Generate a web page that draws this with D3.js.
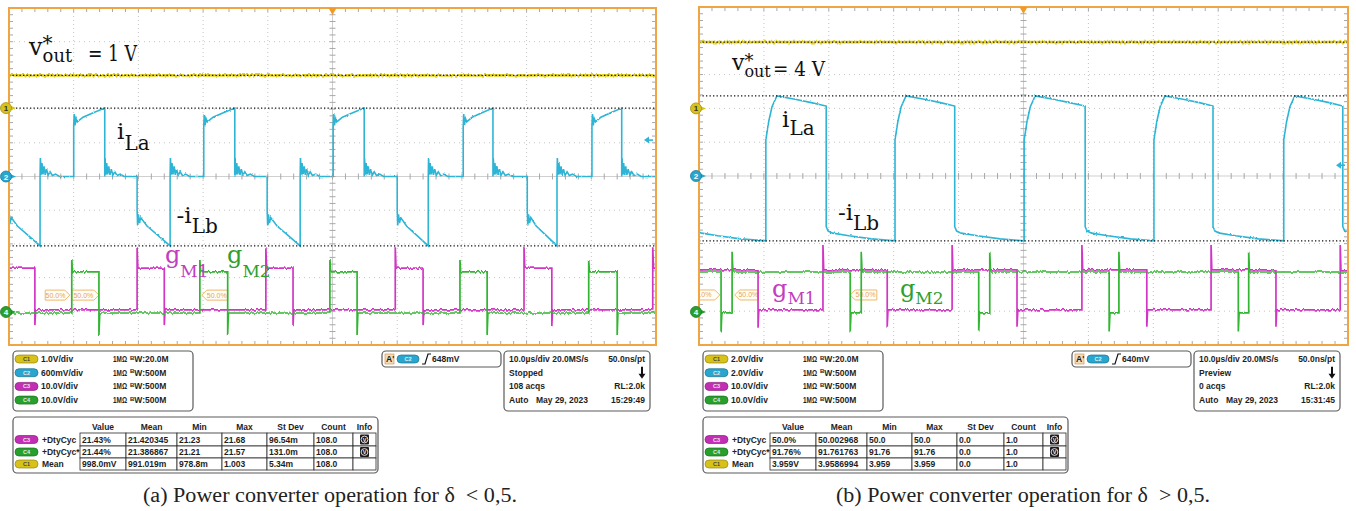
<!DOCTYPE html>
<html>
<head>
<meta charset="utf-8">
<script src="https://cdn.jsdelivr.net/npm/d3@7"></script>
<style>
  body { margin: 0; background: #fff; }
  svg { display: block; }
  .info { font-family: "Liberation Sans", Arial, sans-serif; font-weight: bold; font-size: 8.5px; fill: #1e1e1e; }
  .lbl { font-family: "DejaVu Serif", serif; }
</style>
</head>
<body>
<svg id="fig" width="1356" height="511"></svg>
<script>
// time in µs (10 µs/div), levels in divisions (center = 0)

// ---------- scope (a) : delta < 0.5 ----------
const aYellow = 3.0;
const aCursors = [3.0, 2.03, -2.06];
const aILaRise = [10.0, 30.1, 50.1, 70.2, 90.1];
const aILaFall = [14.8, 34.9, 54.9, 74.8, 94.7];
const aILbFall = [-0.2, 19.8, 39.9, 60.0, 80.1];
const aILbRise = [4.8, 24.9, 45.0, 64.8, 84.7];
const aILaEdge = [[0, 1.5], [0.08, 1.85], [0.2, 1.52], [0.35, 1.72], [0.55, 1.62]];
const aILaRamp = [[0.3, 1.76], [0.65, 1.9], [1, 2.03]];      // fraction of on-time, level
const aILbEdge = [[0, -1.0], [0.08, -1.45], [0.2, -1.12], [0.35, -1.38], [0.55, -1.22]];
const aILbRamp = [[0.3, -1.47], [0.65, -1.76], [1, -2.06]];
const aRing = [[0.05, 0.55], [0.18, 0.05], [0.3, 0.4], [0.45, 0.06], [0.62, 0.3], [0.8, 0.05],
               [1.0, 0.22], [1.25, 0.04], [1.55, 0.14], [1.9, 0.03], [2.4, 0.07], [3.0, 0]];
const aG1High = [[-0.3, 4.0], [19.8, 24.0], [39.7, 43.9], [59.7, 64.0], [79.6, 83.9], [99.5, 101]];
const aG2High = [[9.7, 13.9], [29.5, 33.8], [49.6, 53.8], [69.7, 73.9], [89.6, 94.0]];
const aG1Levels = [-3.96, -2.72], aG1Spikes = [0.62, 0.45];
const aG2Levels = [-4.05, -2.83], aG2Spikes = [0.35, 0.65];
const aTags = [[5.6, 9.4, "r"], [9.7, 13.9, "r"], [29.8, 33.8, "l"]];
const aMarkers = [["1", 2.03, "C1"], ["2", 0, "C2"], ["4", -4.02, "C4"]];
const aTrig = [0.648, 0.6];   // level V, C2 V/div
const aLabels = { vout: [3.09, 3.61, "1"], iLa: [16.7, 1.11, 11], iLb: [25.9, -1.38, 10], gM1: [24.1, -2.57, 13.5], gM2: [33.7, -2.57, 13.5] };

const aChannels = [["C1", "1.0V/div", "20.0M"], ["C2", "600mV/div", "500M"], ["C3", "10.0V/div", "500M"], ["C4", "10.0V/div", "500M"]];
const aTrigText = "648mV";
const aTiming = [["10.0µs/div 20.0MS/s", "", "50.0ns/pt"], ["Stopped", "", ""], ["108 acqs", "", "RL:2.0k"], ["Auto", "May 29, 2023", "15:29:49"]];
const aMeas = [["C3", "+DtyCyc", "21.43%", "21.420345", "21.23", "21.68", "96.54m", "108.0", 1],
               ["C4", "+DtyCyc*", "21.44%", "21.386867", "21.21", "21.57", "131.0m", "108.0", 1],
               ["C1", "Mean", "998.0mV", "991.019m", "978.8m", "1.003", "5.34m", "108.0", 0]];
const aCaption = "(a) Power converter operation for δ\u00a0\u00a0< 0,5.";

// ---------- scope (b) : delta > 0.5 ----------
const bYellow = 3.96;
const bCursors = [3.96, 2.37, -1.92];
const bILaRise = [10.3, 30.2, 50.1, 70.1, 90.1];
const bILaFall = [-0.6, 19.6, 39.4, 59.5, 79.2, 99.2];
const bHighShape = [[0, 1.07], [0.45, 1.62], [0.95, 2.05], [1.7, 2.37], [4.5, 2.27], [7, 2.17]];
const bTopEnd = 2.07;
const bLowShape = [[0, -1.5], [0.3, -1.63], [1.0, -1.69], [3.5, -1.77], [7, -1.86]];
const bLowEnd = -1.92;
const bG1High = [[-1, 9.1], [19.1, 29.0], [39.0, 49.0], [59.0, 69.0], [78.9, 88.9], [98.8, 101]];
const bG2High = [[-1, 3.4], [5.1, 23.3], [25.0, 43.1], [44.8, 63.2], [64.7, 83.1], [84.7, 101]];
const bG1Levels = [-3.96, -2.78], bG1Spikes = [0.74, 0.5];
const bG2Levels = [-4.05, -2.84], bG2Spikes = [0.6, 0.55];
const bTags = [[-1.8, 3.2, "r"], [5.5, 9.1, "l"], [23.3, 27.4, "l"]];
const bMarkers = [["1", 2.0, "C1"], ["2", 0, "C2"], ["4", -4.02, "C4"]];
const bTrig = [0.64, 2.0];
const bLabels = { vout: [5.08, 3.14, "4"], iLa: [12.8, 1.45, 8], iLb: [21.4, -1.30, 10], gM1: [11.25, -3.58, 6.5], gM2: [30.97, -3.58, 6.5] };

const bChannels = [["C1", "2.0V/div", "20.0M"], ["C2", "2.0V/div", "500M"], ["C3", "10.0V/div", "500M"], ["C4", "10.0V/div", "500M"]];
const bTrigText = "640mV";
const bTiming = [["10.0µs/div 20.0MS/s", "", "50.0ns/pt"], ["Preview", "", ""], ["0 acqs", "", "RL:2.0k"], ["Auto", "May 29, 2023", "15:31:45"]];
const bMeas = [["C3", "+DtyCyc", "50.0%", "50.002968", "50.0", "50.0", "0.0", "1.0", 1],
               ["C4", "+DtyCyc*", "91.76%", "91.761763", "91.76", "91.76", "0.0", "1.0", 1],
               ["C1", "Mean", "3.959V", "3.9586994", "3.959", "3.959", "0.0", "1.0", 0]];
const bCaption = "(b) Power converter operation for δ\u00a0\u00a0> 0,5.";

const measHeader = ["Value", "Mean", "Min", "Max", "St Dev", "Count", "Info"];

// ---------- styles ----------
const chColor = { C1: "#d8c21a", C2: "#28a6cf", C3: "#c22fb4", C4: "#27a02d" };
const trace = { y: "#e4d020", c: "#2eb5d6", m: "#d236c6", g: "#30b530" };
const frameColor = "#f1a542";

const svg = d3.select("#fig");
const defs = svg.append("defs");

function jitter(id, scale, freq) {
  const f = defs.append("filter").attr("id", id)
    .attr("filterUnits", "userSpaceOnUse").attr("x", 0).attr("y", 0).attr("width", 1356).attr("height", 511);
  f.append("feTurbulence").attr("type", "fractalNoise").attr("baseFrequency", freq)
    .attr("numOctaves", 1).attr("seed", 7).attr("result", "n");
  f.append("feColorMatrix").attr("in", "n").attr("type", "matrix")
    .attr("values", "0 0 0 0 0.5  0 1 0 0 0  0 0 0 0 0  0 0 0 0 1").attr("result", "m");
  f.append("feDisplacementMap").attr("in", "SourceGraphic").attr("in2", "m").attr("scale", scale)
    .attr("xChannelSelector", "R").attr("yChannelSelector", "G");
}
jitter("jitY", 4.5, "0.45 0.05");
jitter("jitG", 4, "0.5 0.05");
jitter("jitC", 2.5, "0.5 0.5");

function gatePts(high, lv, sp) {
  const p = [[-1, high[0][0] <= -1 ? lv[1] : lv[0]]];
  high.forEach(([r, f]) => {
    if (r > -1) p.push([r, lv[0]], [r, lv[1] + sp[0]], [r + 0.12, lv[1]]);
    if (f < 101) p.push([f, lv[1]], [f, lv[0] - sp[1]], [f + 0.12, lv[0]]);
  });
  p.push([101, p[p.length - 1][1]]);
  return p;
}

function cyanA() {
  const pulses = [];
  aILaRise.forEach((t, i) => pulses.push([t, aILaFall[i], aILaEdge, aILaRamp]));
  aILbFall.forEach((t, i) => pulses.push([t, aILbRise[i], aILbEdge, aILbRamp]));
  pulses.sort((p, q) => p[0] - q[0]);
  const pts = [[-1, 0]];
  pulses.forEach(([t0, t1, edge, ramp]) => {
    pts.push([t0, 0]);
    edge.forEach(([d, v]) => pts.push([t0 + d, v]));
    ramp.forEach(([f, v]) => pts.push([t0 + f * (t1 - t0), v]));
    pts.push([t1, 0]);
    aRing.forEach(([d, v]) => pts.push([t1 + d, v]));
  });
  pts.push([101, 0]);
  return pts;
}

function cyanB() {
  const pts = [[-1, bTopEnd]];
  bILaFall.forEach((f, i) => {
    pts.push([f, bTopEnd]);
    bLowShape.forEach(([d, v]) => pts.push([f + d, v]));
    const r = bILaRise[i];
    if (r !== undefined) {
      pts.push([r, bLowEnd]);
      bHighShape.forEach(([d, v]) => pts.push([r + d, v]));
    }
  });
  return pts;
}

function drawScope(id, fr, cfg) {
  const x = d3.scaleLinear().domain([0, 100]).range([fr.x0, fr.x1]);
  const y = d3.scaleLinear().domain([-5, 5]).range([fr.y1, fr.y0]);
  const line = d3.line().x(d => x(d[0])).y(d => y(d[1]));
  const g = svg.append("g");

  defs.append("clipPath").attr("id", "clip-" + id).append("rect")
    .attr("x", fr.x0).attr("y", fr.y0).attr("width", fr.x1 - fr.x0).attr("height", fr.y1 - fr.y0);

  // graticule
  const grid = g.append("g").attr("stroke", "#c4c4c4").attr("stroke-width", 1);
  grid.selectAll(".vg").data(d3.range(10, 100, 10).filter(t => t !== 50)).join("line")
    .attr("x1", d => x(d)).attr("x2", d => x(d)).attr("y1", fr.y0).attr("y2", fr.y1)
    .attr("stroke-dasharray", "1,3");
  grid.selectAll(".hg").data(d3.range(-4, 5, 1).filter(v => v !== 0)).join("line")
    .attr("y1", d => y(d)).attr("y2", d => y(d)).attr("x1", fr.x0).attr("x2", fr.x1)
    .attr("stroke-dasharray", "1,4");
  grid.append("line").attr("x1", x(50)).attr("x2", x(50)).attr("y1", fr.y0).attr("y2", fr.y1).attr("stroke", "#cfcfcf");
  grid.append("line").attr("y1", y(0)).attr("y2", y(0)).attr("x1", fr.x0).attr("x2", fr.x1).attr("stroke", "#cfcfcf");

  const ticks = g.append("g").attr("stroke", "#a8a8a8").attr("stroke-width", 1);
  const tT = d3.range(2, 100, 2), tV = d3.range(-4.8, 5, 0.2);
  ticks.selectAll(".tt").data(tT).join("line")
    .attr("x1", d => x(d)).attr("x2", d => x(d)).attr("y1", fr.y0).attr("y2", fr.y0 + 4);
  ticks.selectAll(".tb").data(tT).join("line")
    .attr("x1", d => x(d)).attr("x2", d => x(d)).attr("y1", fr.y1).attr("y2", fr.y1 - 4);
  ticks.selectAll(".tc").data(tT).join("line")
    .attr("x1", d => x(d)).attr("x2", d => x(d)).attr("y1", y(0) - 3).attr("y2", y(0) + 3);
  ticks.selectAll(".vl").data(tV).join("line")
    .attr("y1", d => y(d)).attr("y2", d => y(d)).attr("x1", fr.x0).attr("x2", fr.x0 + 4);
  ticks.selectAll(".vr").data(tV).join("line")
    .attr("y1", d => y(d)).attr("y2", d => y(d)).attr("x1", fr.x1).attr("x2", fr.x1 - 4);
  ticks.selectAll(".vc").data(tV).join("line")
    .attr("y1", d => y(d)).attr("y2", d => y(d)).attr("x1", x(50) - 3).attr("x2", x(50) + 3);

  const inner = g.append("g").attr("clip-path", `url(#clip-${id})`);

  // measurement tags
  const tagY = y(-3.52);
  cfg.tags.forEach(([t0, t1, dir]) => {
    const a = x(t0), b = x(t1), h = 5;
    const pts = dir === "r"
      ? [[a, tagY - h], [b - 5, tagY - h], [b, tagY], [b - 5, tagY + h], [a, tagY + h]]
      : [[a, tagY], [a + 5, tagY - h], [b, tagY - h], [b, tagY + h], [a + 5, tagY + h]];
    inner.append("polygon").attr("points", pts.map(p => p.join(",")).join(" "))
      .attr("fill", "#fffdf6").attr("stroke", "#f0b86a").attr("stroke-width", 1);
    inner.append("text").attr("x", (a + b) / 2 + (dir === "r" ? -2 : 2)).attr("y", tagY + 2.5)
      .attr("text-anchor", "middle").attr("font-family", "Liberation Sans, Arial, sans-serif")
      .attr("font-size", 7).attr("fill", "#e6a556").text("50.0%");
  });

  // traces
  inner.append("path").attr("d", line([[-1, cfg.yellow], [101, cfg.yellow]]))
    .attr("fill", "none").attr("stroke", trace.y).attr("stroke-width", 2.6).attr("filter", "url(#jitY)");
  inner.append("path").attr("d", line(gatePts(cfg.g1High, cfg.g1Lv, cfg.g1Sp)))
    .attr("fill", "none").attr("stroke", trace.m).attr("stroke-width", 1.7).attr("filter", "url(#jitG)");
  inner.append("path").attr("d", line(gatePts(cfg.g2High, cfg.g2Lv, cfg.g2Sp)))
    .attr("fill", "none").attr("stroke", trace.g).attr("stroke-width", 1.7).attr("filter", "url(#jitG)");
  inner.append("path").attr("d", line(cfg.cyan()))
    .attr("fill", "none").attr("stroke", trace.c).attr("stroke-width", 1.6).attr("filter", "url(#jitC)");

  // cursors
  inner.selectAll(".cur").data(cfg.cursors).join("line")
    .attr("x1", fr.x0).attr("x2", fr.x1).attr("y1", d => y(d)).attr("y2", d => y(d))
    .attr("stroke", "#111").attr("stroke-width", 1.3).attr("stroke-dasharray", "1.3,2.2");

  // frame
  g.append("rect").attr("x", fr.x0).attr("y", fr.y0).attr("width", fr.x1 - fr.x0).attr("height", fr.y1 - fr.y0)
    .attr("fill", "none").attr("stroke", frameColor).attr("stroke-width", 2);

  // trigger position & level
  const cx = x(50);
  g.append("path").attr("d", `M${cx - 4},${fr.y0} L${cx + 4},${fr.y0} L${cx},${fr.y0 + 7} Z`).attr("fill", "#f19a2a");
  const ty = y(cfg.trig[0] / cfg.trig[1]);
  g.append("path").attr("d", `M${fr.x1 - 12},${ty} l5,-3.5 v7 Z`).attr("fill", trace.c);
  g.append("line").attr("x1", fr.x1 - 8).attr("x2", fr.x1 - 3).attr("y1", ty).attr("y2", ty)
    .attr("stroke", trace.c).attr("stroke-width", 1.6);

  // ground markers
  cfg.markers.forEach(([n, lv, ch]) => {
    const my = y(lv), mx = fr.x0 - 3;
    g.append("path").attr("d", `M${mx + 4},${my - 2.5} L${mx + 10},${my} L${mx + 4},${my + 2.5} Z`).attr("fill", chColor[ch]);
    g.append("circle").attr("cx", mx).attr("cy", my).attr("r", 5.5)
      .attr("fill", chColor[ch]).attr("stroke", d3.color(chColor[ch]).darker(0.8)).attr("stroke-width", 0.8);
    g.append("text").attr("x", mx).attr("y", my + 3).attr("text-anchor", "middle")
      .attr("font-family", "Liberation Sans, Arial, sans-serif").attr("font-weight", "bold").attr("font-size", 8)
      .attr("fill", n === "1" ? "#333" : "#fff").text(n);
  });

  // annotations
  const L = cfg.labels;
  const vx = x(L.vout[0]), vy = y(L.vout[1]);
  const big = id === "a";
  const vt = g.append("text").attr("class", "lbl").attr("x", vx).attr("y", vy).attr("fill", "#111");
  vt.append("tspan").attr("font-size", big ? 24 : 22).text("v");
  vt.append("tspan").attr("font-size", big ? 20 : 18).attr("dy", big ? -5 : -3).text("*");
  vt.append("tspan").attr("font-size", big ? 18 : 16).attr("dx", big ? -10 : -9).attr("dy", big ? 12 : 10).text("out");
  g.append("text").attr("class", "lbl").attr("x", vx + (big ? 59 : 41)).attr("y", vy + (big ? 6.5 : 6)).attr("fill", "#111")
    .attr("font-size", big ? 23 : 21).attr("textLength", big ? 49 : 52).attr("lengthAdjust", "spacingAndGlyphs")
    .text(`= ${L.vout[2]} V`);

  const sub = (key, main, s, color, mSize, sSize) => {
    const [t, v, dy] = L[key];
    const tx = g.append("text").attr("class", "lbl").attr("x", x(t)).attr("y", y(v)).attr("fill", color);
    tx.append("tspan").attr("font-size", mSize).text(main);
    tx.append("tspan").attr("font-size", sSize).attr("dy", dy).text(s);
  };
  sub("iLa", "i", "La", "#111", 23, 20);
  sub("iLb", "-i", "Lb", "#111", 23, 20);
  sub("gM1", "g", "M1", "#c23dbf", 24, 17);
  sub("gM2", "g", "M2", "#2f9f2f", 24, 17);
}

function pill(g, x0, yc, ch, w) {
  g.append("rect").attr("x", x0).attr("y", yc - 4).attr("width", w).attr("height", 8).attr("rx", 4)
    .attr("fill", chColor[ch]).attr("stroke", d3.color(chColor[ch]).darker(1)).attr("stroke-width", 0.7);
  g.append("text").attr("x", x0 + w / 2).attr("y", yc + 2).attr("text-anchor", "middle")
    .attr("font-family", "Liberation Sans, Arial, sans-serif").attr("font-size", 5.5).attr("font-weight", "bold")
    .attr("fill", ch === "C1" ? "#444" : "#e8e8e8").text(ch);
}

function drawInfo(dx, cfg) {
  const g = svg.append("g").attr("transform", `translate(${dx},0)`);
  const box = (x0, y0, w, h) => g.append("rect").attr("x", x0).attr("y", y0).attr("width", w).attr("height", h)
    .attr("rx", 4).attr("fill", "#fff").attr("stroke", "#5a5a5a").attr("stroke-width", 1.2);
  const rowY = i => 359 + i * 13.7;

  // channel settings
  box(13, 351, 180, 60);
  cfg.channels.forEach(([ch, vd, bw], i) => {
    pill(g, 15, rowY(i), ch, 23);
    g.append("text").attr("class", "info").attr("x", 41).attr("y", rowY(i) + 3).text(vd);
    g.append("text").attr("class", "info").attr("x", 113).attr("y", rowY(i) + 3)
      .attr("textLength", 14).attr("lengthAdjust", "spacingAndGlyphs").text("1MΩ");
    const t = g.append("text").attr("class", "info").attr("x", 130).attr("y", rowY(i) + 3);
    t.append("tspan").attr("font-size", 6).attr("dy", -2.5).text("B");
    t.append("tspan").attr("dy", 2.5).text("W:" + bw);
  });

  // trigger
  box(382, 351, 119, 16);
  g.append("rect").attr("x", 385).attr("y", 354).attr("width", 9).attr("height", 10)
    .attr("fill", "#f5dcb4").attr("stroke", "#c98b4a").attr("stroke-width", 0.6);
  g.append("text").attr("class", "info").attr("x", 386).attr("y", 362).attr("font-size", 7.5).text("A'");
  pill(g, 397, 359, "C2", 22);
  g.append("path").attr("d", "M422,364 L425,364 L428,354 L431,354").attr("fill", "none").attr("stroke", "#111").attr("stroke-width", 1.2);
  g.append("text").attr("class", "info").attr("x", 432).attr("y", 362).text(cfg.trigText);

  // timebase
  box(504, 351, 146, 60);
  cfg.timing.forEach(([l, m, r], i) => {
    g.append("text").attr("class", "info").attr("x", 509).attr("y", rowY(i) + 3).text(l);
    if (m) g.append("text").attr("class", "info").attr("x", 536).attr("y", rowY(i) + 3).text(m);
    if (r) g.append("text").attr("class", "info").attr("x", 645).attr("y", rowY(i) + 3).attr("text-anchor", "end").text(r);
  });
  const ay = rowY(1);
  g.append("line").attr("x1", 642).attr("x2", 642).attr("y1", ay - 6).attr("y2", ay + 2).attr("stroke", "#111").attr("stroke-width", 2);
  g.append("path").attr("d", `M638.5,${ay + 1} L645.5,${ay + 1} L642,${ay + 6} Z`).attr("fill", "#111");

  // measurement table
  const cols = [80, 126, 177, 222, 267, 314, 353, 376];
  const rows = [433, 446, 458, 470];
  box(13, 417, 365, 56);
  measHeader.forEach((h, i) => g.append("text").attr("class", "info").attr("x", (cols[i] + cols[i + 1]) / 2)
    .attr("y", 430).attr("text-anchor", "middle").text(h));
  cfg.meas.forEach((r, ri) => {
    const y0 = rows[ri], y1 = rows[ri + 1], yc = (y0 + y1) / 2;
    pill(g, 15, yc, r[0], 23);
    g.append("text").attr("class", "info").attr("x", 42).attr("y", yc + 3).attr("font-size", 8).text(r[1]);
    for (let c = 0; c < 7; c++) {
      g.append("rect").attr("x", cols[c]).attr("y", y0).attr("width", cols[c + 1] - cols[c]).attr("height", y1 - y0)
        .attr("fill", "#fff").attr("stroke", "#2a2a2a").attr("stroke-width", 0.8);
      if (c < 6) g.append("text").attr("class", "info").attr("x", cols[c] + 2).attr("y", yc + 3).text(r[c + 2]);
    }
    if (r[8]) {
      const ix = (cols[6] + cols[7]) / 2;
      g.append("rect").attr("x", ix - 4.5).attr("y", yc - 5).attr("width", 9).attr("height", 10).attr("rx", 1).attr("fill", "#1a1a1a");
      g.append("circle").attr("cx", ix).attr("cy", yc).attr("r", 3.4).attr("fill", "none").attr("stroke", "#eee").attr("stroke-width", 0.9);
      g.append("text").attr("x", ix).attr("y", yc + 2.2).attr("text-anchor", "middle").attr("font-size", 5.5)
        .attr("font-family", "Liberation Sans, Arial, sans-serif").attr("font-weight", "bold").attr("fill", "#eee").text("V");
    }
  });
}

function caption(cx, text) {
  svg.append("text").attr("x", cx).attr("y", 502).attr("text-anchor", "middle")
    .attr("font-family", "Liberation Serif, serif").attr("font-size", 20)
    .attr("textLength", 374).attr("lengthAdjust", "spacingAndGlyphs").attr("fill", "#222").text(text);
}

drawScope("a", { x0: 9, x1: 656, y0: 8, y1: 345 }, {
  yellow: aYellow, cursors: aCursors, cyan: cyanA, tags: aTags, markers: aMarkers, trig: aTrig, labels: aLabels,
  g1High: aG1High, g1Lv: aG1Levels, g1Sp: aG1Spikes, g2High: aG2High, g2Lv: aG2Levels, g2Sp: aG2Spikes
});
drawScope("b", { x0: 699, x1: 1348, y0: 7, y1: 345 }, {
  yellow: bYellow, cursors: bCursors, cyan: cyanB, tags: bTags, markers: bMarkers, trig: bTrig, labels: bLabels,
  g1High: bG1High, g1Lv: bG1Levels, g1Sp: bG1Spikes, g2High: bG2High, g2Lv: bG2Levels, g2Sp: bG2Spikes
});
drawInfo(0, { channels: aChannels, trigText: aTrigText, timing: aTiming, meas: aMeas });
drawInfo(690, { channels: bChannels, trigText: bTrigText, timing: bTiming, meas: bMeas });
caption(330, aCaption);
caption(1023, bCaption);
</script>
</body>
</html>
